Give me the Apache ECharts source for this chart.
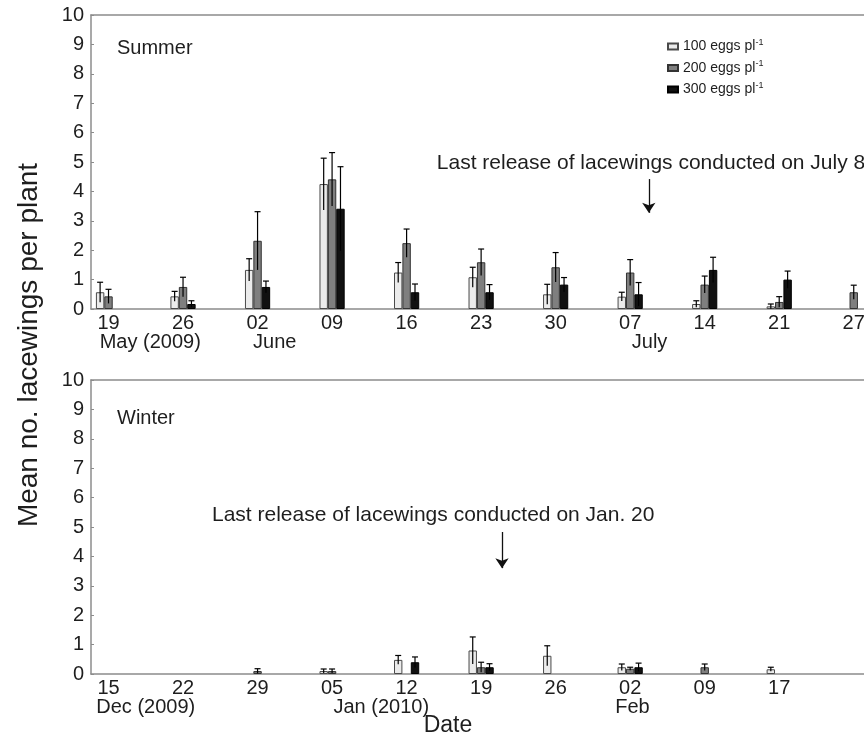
<!DOCTYPE html>
<html>
<head>
<meta charset="utf-8">
<script src="https://cdn.jsdelivr.net/npm/echarts@6/dist/echarts.min.js"></script>
<style>
  html, body { margin: 0; padding: 0; background: #fff; }
  #main { width: 864px; height: 742px; }
</style>
</head>
<body>
<div id="main"></div>
<script>
  // series names (legend adds the -1 superscript)
  var doses = ['100 eggs pl', '200 eggs pl', '300 eggs pl'];

  // summer panel
  var summerDays = ['19', '26', '02', '09', '16', '23', '30', '07', '14', '21', '27'];
  var summerMonths = ['May (2009)', 'June', 'July'];
  var summerMonthPos = [0.56, 2.23, 7.26];
  var summer100 = [0.57, 0.43, 1.33, 4.25, 1.24, 1.08, 0.50, 0.42, 0.17, 0.09, null];
  var summer100Err = [0.34, 0.17, 0.38, 0.88, 0.34, 0.34, 0.34, 0.15, 0.11, 0.08, null];
  var summer200 = [0.43, 0.75, 2.32, 4.41, 2.24, 1.59, 1.42, 1.24, 0.83, 0.24, 0.57];
  var summer200Err = [0.24, 0.33, 0.99, 0.91, 0.48, 0.45, 0.50, 0.44, 0.29, 0.18, 0.24];
  var summer300 = [null, 0.17, 0.75, 3.41, 0.57, 0.57, 0.83, 0.50, 1.33, 1.00, null];
  var summer300Err = [null, 0.11, 0.20, 1.43, 0.28, 0.26, 0.24, 0.40, 0.43, 0.29, null];

  // winter panel
  var winterDays = ['15', '22', '29', '05', '12', '19', '26', '02', '09', '17'];
  var winterMonths = ['Dec (2009)', 'Jan (2010)', 'Feb'];
  var winterMonthPos = [0.50, 3.66, 7.03];
  var winter100 = [null, null, null, 0.10, 0.48, 0.80, 0.62, 0.23, null, 0.16];
  var winter100Err = [null, null, null, 0.07, 0.15, 0.46, 0.34, 0.11, null, 0.07];
  var winter200 = [null, null, 0.10, 0.10, null, 0.23, null, 0.18, 0.23, null];
  var winter200Err = [null, null, 0.08, 0.07, null, 0.17, null, 0.05, 0.11, null];
  var winter300 = [null, null, null, null, 0.40, 0.23, null, 0.23, null, null];
  var winter300Err = [null, null, null, null, 0.18, 0.12, null, 0.14, null, null];

  // release arrows: [x, yFrom, yTo]
  var summerArrow = [7.25, 4.42, 3.27];
  var winterArrow = [5.28, 4.83, 3.60];

  var yTicks = [0, 1, 2, 3, 4, 5, 6, 7, 8, 9, 10];

  var BAR_W = 8.4;
  var FONT = 'Liberation Sans, Arial, sans-serif';
  var AXIS_COLOR = '#8c8c8c';
  var TEXT = '#1e1e1e';

  var fills = ['#ebebeb', '#7f7f7f', '#111111'];
  var borders = ['#4a4a4a', '#333333', '#000000'];

  var myChart = echarts.init(document.getElementById('main'));

  function pairs(vals) {
    return vals.map(function (v, i) { return v == null ? [i, '-'] : [i, v]; });
  }

  function errData(means, errs) {
    var out = [];
    for (var k = 0; k < means.length; k++) {
      means[k].forEach(function (m, i) {
        if (m != null && errs[k][i] != null) out.push([i, m, errs[k][i], k]);
      });
    }
    return out;
  }

  function renderErr(params, api) {
    var x = api.value(0), m = api.value(1), e = api.value(2), k = api.value(3);
    var hi = api.coord([x, m + e]);
    var lo = api.coord([x, Math.max(m - e, 0)]);
    var cx = hi[0] + (k - 1) * BAR_W;
    var st = { stroke: '#000', lineWidth: 1.2 };
    return {
      type: 'group',
      children: [
        { type: 'line', shape: { x1: cx, y1: hi[1], x2: cx, y2: lo[1] }, style: st },
        { type: 'line', shape: { x1: cx - 3, y1: hi[1], x2: cx + 3, y2: hi[1] }, style: st }
      ]
    };
  }

  function xAxes(gridIndex, days, months, monthPos) {
    var base = { type: 'value', gridIndex: gridIndex, min: -0.235, max: 10.5, splitLine: { show: false }, axisTick: { show: false } };
    return [
      Object.assign({}, base, {
        position: 'bottom',
        axisLine: { onZero: false, lineStyle: { color: AXIS_COLOR, width: 1.5 } },
        axisLabel: {
          customValues: days.map(function (d, i) { return i; }),
          formatter: function (v) { return days[Math.round(v)]; },
          color: TEXT, fontFamily: FONT, fontSize: 20, margin: 4, showMinLabel: true, showMaxLabel: true
        }
      }),
      Object.assign({}, base, {
        position: 'bottom',
        axisLine: { show: false, onZero: false },
        axisLabel: {
          customValues: monthPos,
          formatter: function (v) { return months[monthPos.indexOf(v)]; },
          color: TEXT, fontFamily: FONT, fontSize: 20, margin: 23
        }
      }),
      Object.assign({}, base, {
        position: 'top',
        axisLine: { onZero: false, lineStyle: { color: AXIS_COLOR, width: 1.5 } },
        axisLabel: { show: false }
      })
    ];
  }

  function yAxis(gridIndex) {
    return {
      type: 'value', gridIndex: gridIndex, min: 0, max: 10, interval: 1,
      axisLine: { show: true, onZero: false, lineStyle: { color: AXIS_COLOR, width: 1.5 } },
      axisTick: { show: true, inside: true, length: 3, lineStyle: { color: AXIS_COLOR } },
      splitLine: { show: false },
      axisLabel: { color: TEXT, fontFamily: FONT, fontSize: 20, margin: 7,
        formatter: function (v) { return yTicks.indexOf(v) >= 0 ? String(v) : ''; } }
    };
  }

  function barSeries(gridIndex, vals, arrow) {
    return vals.map(function (v, k) {
      var s = {
        name: doses[k],
        type: 'bar',
        xAxisIndex: gridIndex * 3,
        yAxisIndex: gridIndex,
        barWidth: BAR_W,
        barGap: '0%',
        data: pairs(v),
        itemStyle: { color: fills[k], borderColor: borders[k], borderWidth: 1 }
      };
      // arrow on the middle series, which has no bar offset
      if (k === 1) {
        s.markLine = {
          silent: true,
          symbol: ['none', 'arrow'],
          symbolSize: 10,
          label: { show: false },
          lineStyle: { color: '#111', width: 1.3, type: 'solid' },
          data: [[{ coord: [arrow[0], arrow[1]] }, { coord: [arrow[0], arrow[2]] }]]
        };
      }
      return s;
    });
  }

  var series = []
    .concat(barSeries(0, [summer100, summer200, summer300], summerArrow))
    .concat(barSeries(1, [winter100, winter200, winter300], winterArrow))
    .concat([
      {
        type: 'custom', xAxisIndex: 0, yAxisIndex: 0, z: 5,
        renderItem: renderErr, encode: { x: 0, y: 1 },
        data: errData([summer100, summer200, summer300], [summer100Err, summer200Err, summer300Err])
      },
      {
        type: 'custom', xAxisIndex: 3, yAxisIndex: 1, z: 5,
        renderItem: renderErr, encode: { x: 0, y: 1 },
        data: errData([winter100, winter200, winter300], [winter100Err, winter200Err, winter300Err])
      }
    ]);

  myChart.setOption({
    animation: false,
    backgroundColor: '#fff',
    grid: [
      { left: 91, top: 15, height: 294, right: -27, outerBoundsMode: 'none' },
      { left: 91, top: 380, height: 294, right: -27, outerBoundsMode: 'none' }
    ],
    xAxis: xAxes(0, summerDays, summerMonths, summerMonthPos)
      .concat(xAxes(1, winterDays, winterMonths, winterMonthPos)),
    yAxis: [yAxis(0), yAxis(1)],
    legend: {
      data: doses,
      orient: 'vertical',
      left: 662,
      top: 33,
      itemWidth: 10,
      itemHeight: 6,
      itemGap: 6,
      icon: 'rect',
      formatter: function (name) { return '{a|' + name + '}{s|-1}'; },
      textStyle: {
        color: TEXT,
        rich: {
          a: { fontSize: 14, fontFamily: FONT, color: TEXT, lineHeight: 17 },
          s: { fontSize: 9, fontFamily: FONT, color: TEXT, verticalAlign: 'top', lineHeight: 9 }
        }
      }
    },
    graphic: [
      { type: 'text', left: 117, top: 38, style: { text: 'Summer', font: '20px ' + FONT, fill: TEXT } },
      { type: 'text', left: 117, top: 408, style: { text: 'Winter', font: '20px ' + FONT, fill: TEXT } },
      { type: 'text', x: 651, y: 163, style: { text: 'Last release of lacewings conducted on July 8', font: '21px ' + FONT, fill: TEXT, align: 'center', verticalAlign: 'middle' } },
      { type: 'text', x: 212, y: 515, style: { text: 'Last release of lacewings conducted on Jan. 20', font: '21px ' + FONT, fill: TEXT, align: 'left', verticalAlign: 'middle' } },
      { type: 'text', x: 29, y: 345, rotation: Math.PI / 2, style: { text: 'Mean no. lacewings per plant', font: '28px ' + FONT, fill: TEXT, align: 'center', verticalAlign: 'middle' } },
      { type: 'text', x: 448, y: 726, style: { text: 'Date', font: '23px ' + FONT, fill: TEXT, align: 'center', verticalAlign: 'middle' } }
    ],
    series: series
  });
</script>
</body>
</html>
